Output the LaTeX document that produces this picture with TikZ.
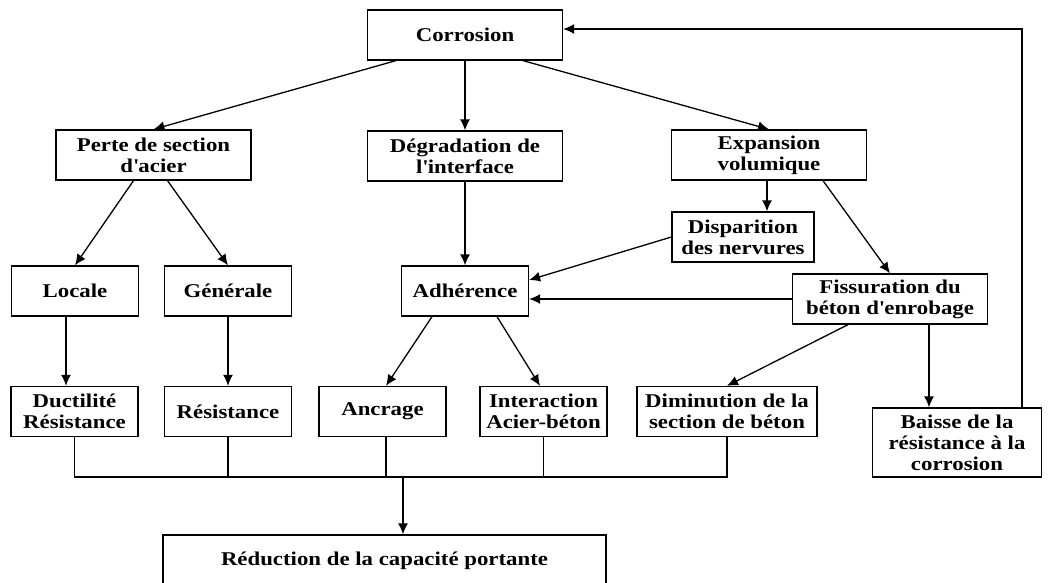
\documentclass[tikz,border=0pt]{standalone}
\usepackage{fontspec}
\setmainfont{Liberation Serif}[FakeStretch=1.17]
\usepackage{tikz}
\usetikzlibrary{arrows.meta}

\newcommand{\apos}{\textquotesingle}

\begin{document}
\begin{tikzpicture}[x=1pt, y=-1pt]
    \tikzset{
      box/.style={draw, rectangle, line width=1.3pt, inner sep=0pt, align=center,
        minimum width=127pt, minimum height=50pt,
        font=\fontsize{19.5}{21}\selectfont\bfseries},
      wbox/.style={box, minimum width=195pt},
      line/.style={draw, line width=1.3pt, -{Latex[length=11pt, width=10pt]}}
    }
    \useasboundingbox (0,0) rectangle (1057,583);

    \node [wbox] at (465,35) (corr) {Corrosion};
    \node [wbox] at (153.5,155) (perte) {Perte de section\\d\apos acier};
    \node [wbox, below of = corr, node distance=121pt] (degr) {Dégradation de\\l\apos interface};
    \node [wbox] at (769,155) (expa) {Expansion\\volumique};
    \node [box, minimum width=142pt] at (743,237) (disp) {Disparition\\des nervures};
    \node [box] at (75,291) (locale) {Locale};
    \node [box] at (228,291) (gener) {Générale};
    \node [box, below of = degr, node distance=135pt] (adh) {Adhérence};
    \node [wbox] at (890,299) (fiss) {Fissuration du\\béton d\apos enrobage};
    \node [box] at (74.5,411.5) (duct) {Ductilité\\Résistance};
    \node [box, below of = gener, node distance=120.5pt] (resi) {Résistance};
    \node [box] at (382.5,411.5) (ancr) {Ancrage};
    \node [box] at (543.5,411.5) (inter) {Interaction\\Acier-béton};
    \node [box, minimum width=180pt] at (727,411.5) (dimi) {Diminution de la\\section de béton};
    \node [box, minimum width=169pt, minimum height=69pt] at (957,442.5) (baisse) {Baisse de la\\résistance à la\\corrosion};
    \node [box, minimum width=443pt, minimum height=52pt] at (384.5,561) (reduc) {Réduction de la capacité portante};
    \coordinate (bus) at (0,477);

    % corrosion and its three effects
    \path [line] ([xshift=29pt]corr.south west)--(perte.north);
    \path [line] (corr.south)--(degr.north);
    \path [line] ([xshift=-40pt]corr.south east)--(expa.north);
    \path [line] ([xshift=-20pt]perte.south)--(locale.north);
    \path [line] ([xshift=14pt]perte.south)--(gener.north);
    \path [line] (degr.south)--(adh.north);
    \path [line] ([xshift=-2pt]expa.south)--([xshift=-2pt]expa.south |- disp.north);
    \path [line] ([xshift=54pt]expa.south)--(fiss.north);
    \path [line] (disp.west)--([yshift=11pt]adh.east);
    \path [line] (fiss.west)--(fiss.west -| adh.east);
    \path [line] ([xshift=-42pt]fiss.south)--(dimi.north);
    \path [line] ([xshift=39pt]fiss.south)--([xshift=39pt]fiss.south |- baisse.north);
    \path [line] ([xshift=65pt]baisse.north) |- ([yshift=6pt]corr.east);
    \path [line] ([xshift=-9pt]locale.south)--([xshift=-9pt]locale.south |- duct.north);
    \path [line] (gener.south)--(resi.north);
    \path [line] ([xshift=-33pt]adh.south)--([xshift=3.5pt]ancr.north);
    \path [line] ([xshift=32pt]adh.south)--([xshift=-3.5pt]inter.north);

    % collecting line
    \draw [line width=1.3pt] (duct.south) -- (duct.south |- bus) -- (dimi.south |- bus) -- (dimi.south);
    \foreach \n/\s in {resi/0pt, ancr/3.5pt, inter/0pt}
      \draw [line width=1.3pt] ([xshift=\s]\n.south) -- ([xshift=\s]\n.south |- bus);
    \path [line] ([xshift=18.5pt]reduc.north |- bus)--([xshift=18.5pt]reduc.north);
\end{tikzpicture}
\end{document}
